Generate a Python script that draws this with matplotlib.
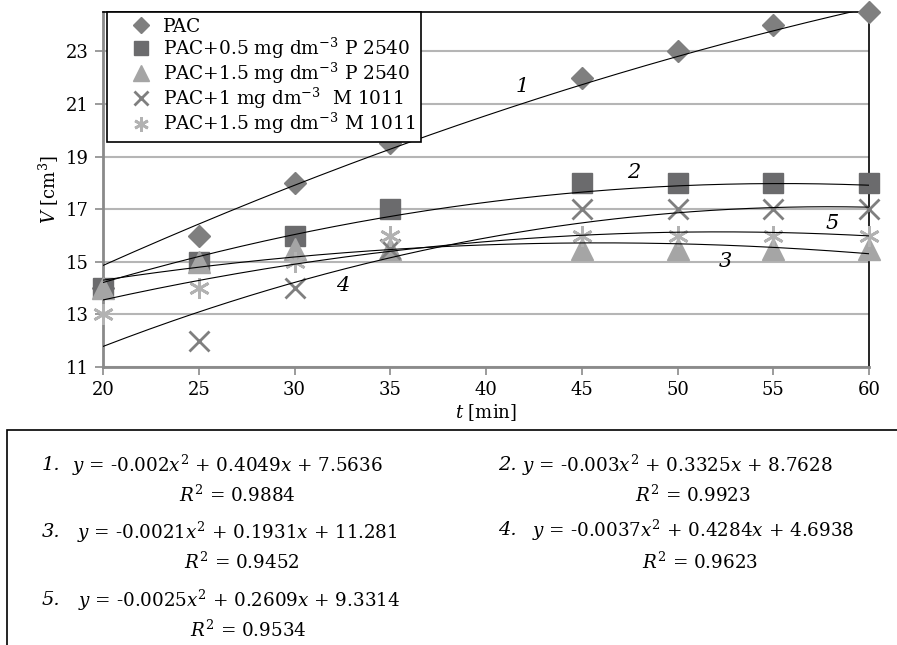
import matplotlib as mpl
mpl.use('Agg')
import matplotlib.pyplot as plt
from matplotlib.patches import Rectangle
import numpy as np

plt.rcParams['font.family'] = ['DejaVu Serif']
plt.rcParams['mathtext.fontset'] = 'dejavuserif'

# data (nan = no visible mark)
t = [20, 25, 30, 35, 45, 50, 55, 60]
pac = [14, 16, 18, 19.5, 22, 23, 24, 24.5]
pac_p05 = [14, 15, 16, 17, 18, 18, 18, 18]
pac_p15 = [14, 15, 15.5, 15.5, 15.5, 15.5, 15.5, 15.5]
pac_m1 = [np.nan, 12, 14, 15.5, 17, 17, 17, 17]
pac_m15 = [13, 14, 15, 16, 16, 16, 16, 16]

labels = ['PAC',
          'PAC+0.5 mg dm$^{-3}$ P 2540',
          'PAC+1.5 mg dm$^{-3}$ P 2540',
          'PAC+1 mg dm$^{-3}$  M 1011',
          'PAC+1.5 mg dm$^{-3}$ M 1011']

# trend line coefficients (a, b, c) and R^2
coefs = [(-0.002, 0.4049, 7.5636),
         (-0.003, 0.3325, 8.7628),
         (-0.0021, 0.1931, 11.281),
         (-0.0037, 0.4284, 4.6938),
         (-0.0025, 0.2609, 9.3314)]
coef_txt = [('-0.002', '0.4049', '7.5636'),
            ('-0.003', '0.3325', '8.7628'),
            ('-0.0021', '0.1931', '11.281'),
            ('-0.0037', '0.4284', '4.6938'),
            ('-0.0025', '0.2609', '9.3314')]
r2 = ['0.9884', '0.9923', '0.9452', '0.9623', '0.9534']
curve_lbl_pos = [(41.9, 21.65), (47.7, 18.4), (52.5, 15.0), (32.5, 14.1), (58.1, 16.45)]

fig = plt.figure(figsize=(8.97, 6.45), dpi=100)
ax = fig.add_axes([103 / 897, 1 - 367 / 645, 766 / 897, 355 / 645])

ax.plot(t, pac, marker='D', color='#7f7f7f', ms=11.5, ls='none', label=labels[0],
        zorder=3, clip_on=False)
ax.plot(t, pac_p05, marker='s', color='#6b6b6d', ms=15, ls='none', label=labels[1],
        zorder=3, clip_on=False)
ax.plot(t, pac_p15, marker='^', color='#a5a5a5', ms=16, ls='none', label=labels[2],
        zorder=3, clip_on=False)
ax.plot(t, pac_m1, marker='x', color='#7f7f7f', ms=14, mew=2, ls='none', label=labels[3],
        zorder=3, clip_on=False)
ax.plot(t, pac_m15, marker=(6, 2, 0), color='#b2b2b2', ms=15, mew=2, ls='none',
        label=labels[4], zorder=3, clip_on=False)

xx = np.linspace(20, 60, 200)
for (a, b, c), (lx, ly), n in zip(coefs, curve_lbl_pos, range(1, 6)):
    ax.plot(xx, a * xx ** 2 + b * xx + c, color='black', lw=0.8, zorder=4)
    ax.text(lx, ly, str(n), fontsize=15, style='italic', ha='center', va='center')

ax.set_xlim(20, 60)
ax.set_ylim(11, 24.5)
ax.set_xticks(range(20, 61, 5))
ax.set_yticks(range(11, 24, 2))
ax.yaxis.grid(True, color='#b5b5b5', lw=1.5)
ax.set_axisbelow(True)
for s in ['left', 'bottom']:
    ax.spines[s].set_color('#8a8a8a')
    ax.spines[s].set_linewidth(2)
for s in ['top', 'right']:
    ax.spines[s].set_color('black')
    ax.spines[s].set_linewidth(1.2)
ax.tick_params(direction='out', length=6, width=1.2, color='#8a8a8a',
               labelsize=13, pad=4)
ax.set_xlabel('$t$ [min]', fontsize=13, labelpad=2)
ax.set_ylabel('$V$ [cm$^3$]', fontsize=13, labelpad=4)

leg = ax.legend(loc='upper left', bbox_to_anchor=(0.005, 1.0), fontsize=13.3,
                markerscale=0.7, frameon=True, fancybox=False, framealpha=1,
                edgecolor='black', borderpad=0.3, labelspacing=0.0,
                handletextpad=-0.3, handlelength=3.05, borderaxespad=0)
leg.get_frame().set_linewidth(1.2)
leg.set_zorder(5)

# equations box
fig.patches.append(Rectangle((7 / 897, -0.05), 1.0, 0.05 + (645 - 430) / 645,
                             transform=fig.transFigure, fill=False,
                             edgecolor='black', lw=1.2))
# (number x, equation x, row y, R^2 centre x, R^2 y) in pixels
eq_pos = [(42, 72, 465, 237, 495), (498, 522, 465, 693, 495),
          (42, 77, 532, 242, 562), (498, 532, 530, 700, 562),
          (42, 78, 600, 248, 630)]
for n, ((a, b, c), (nx, ex, ey, rx, ry)) in enumerate(zip(coef_txt, eq_pos), start=1):
    fig.text(nx / 897, 1 - ey / 645, '%d.' % n, fontsize=14, style='italic',
             ha='left', va='center')
    s = r'$y$ = %s$x^2$ + %s$x$ + %s' % (a, b, c)
    fig.text(ex / 897, 1 - ey / 645, s, fontsize=13.2, ha='left', va='center')
    fig.text(rx / 897, 1 - ry / 645, '$R^2$ = ' + r2[n - 1], fontsize=13.2,
             ha='center', va='center')

fig.savefig('out.png', dpi=100)
